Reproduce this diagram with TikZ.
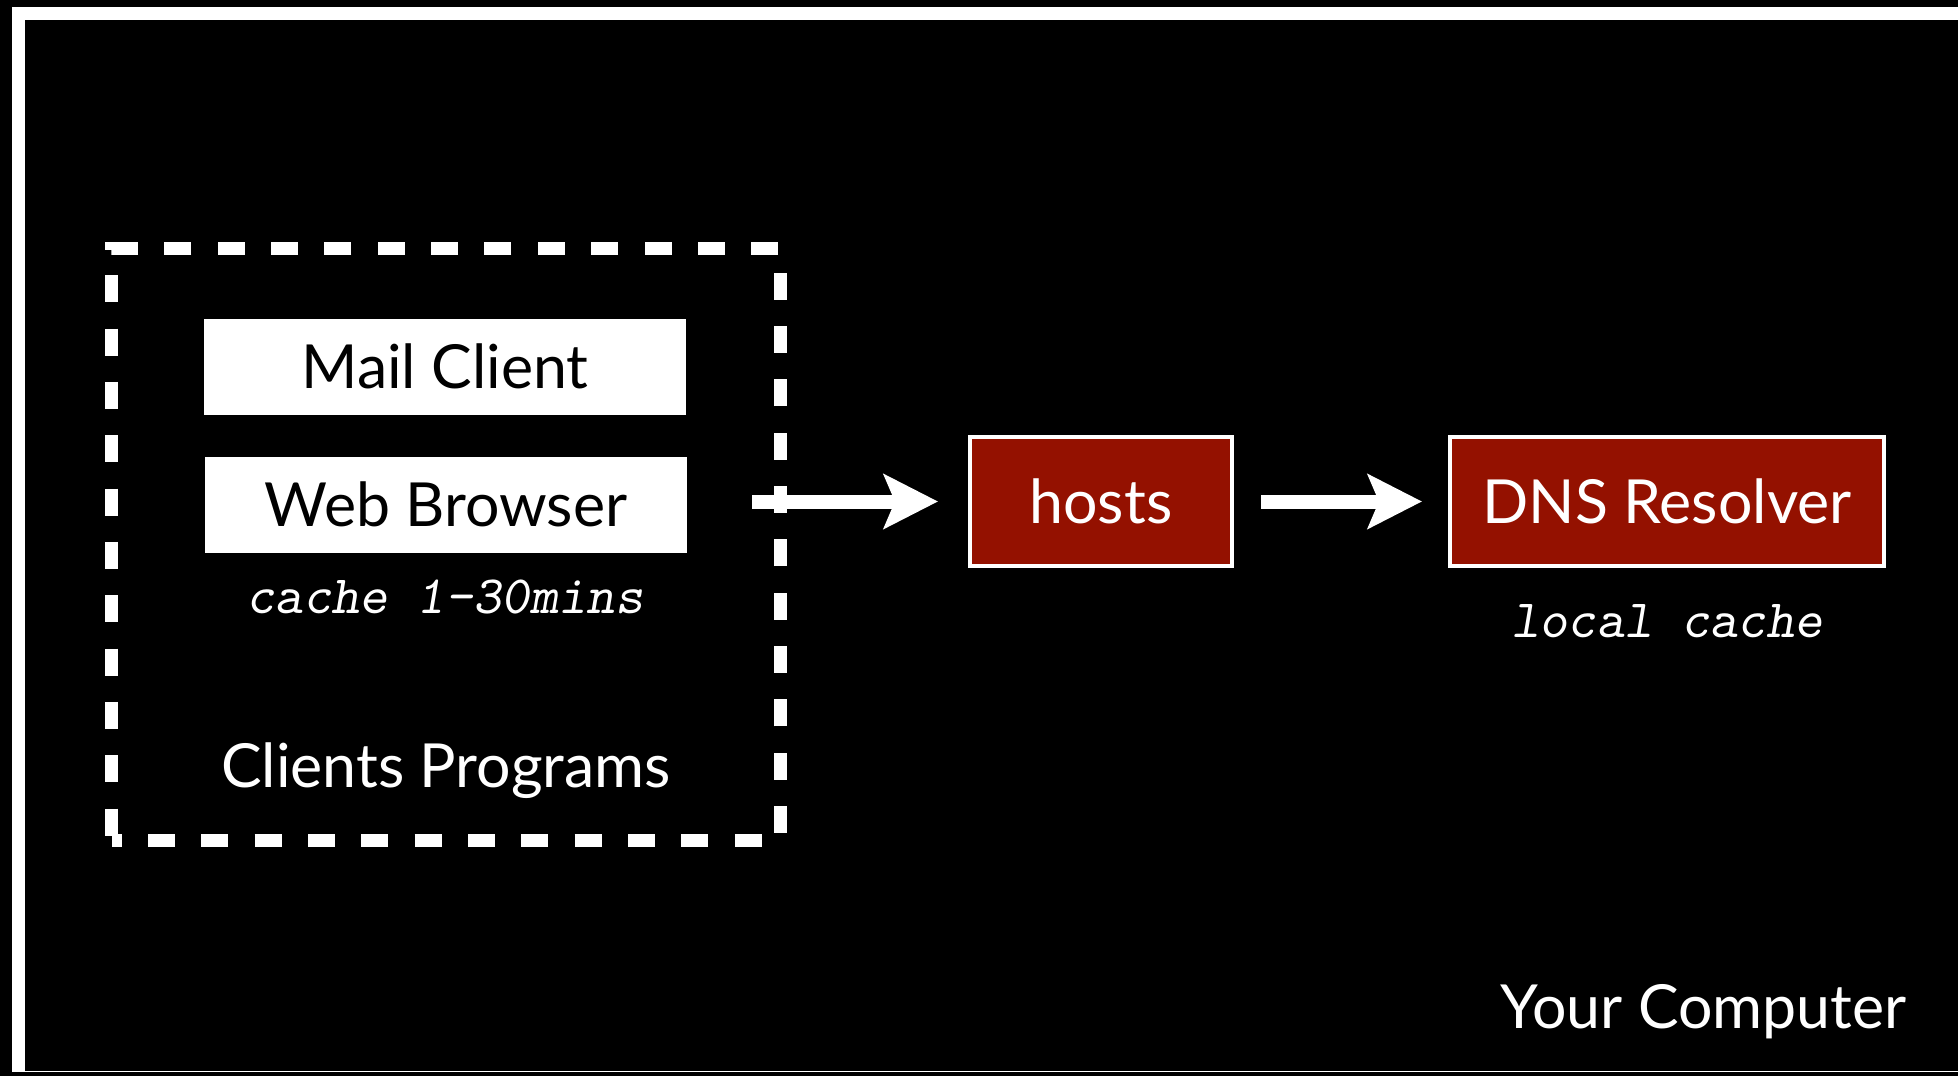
\documentclass[tikz,border=0pt]{standalone}
\usepackage{fontspec}
\setmainfont{Lato}
\usetikzlibrary{arrows.meta,calc}
\definecolor{boxred}{HTML}{941100}
\begin{document}
\begin{tikzpicture}[x=0.5pt,y=-0.5pt,
  sans/.style={font=\fontsize{30.4pt}{36pt}\selectfont},
  mono/.style={font=\fontsize{27pt}{32pt}\selectfont\ttfamily\slshape, text=white, inner sep=0pt},
  label/.style={sans, text=white, inner sep=0pt},
  whitebox/.style={sans, fill=white, text=black, minimum width=241pt, minimum height=48pt,
    inner sep=0pt, outer sep=0pt, text height=21.75pt, text depth=0pt},
  redbox/.style={sans, fill=boxred, draw=white, line width=2pt, text=white, minimum height=64.5pt,
    inner sep=0pt, outer sep=0pt, text height=21.75pt, text depth=0pt},
  groupbox/.style={draw=white, line width=6.5pt, dash pattern=on 13.5pt off 13.17pt, dash phase=8.42pt,
    minimum width=334.5pt, minimum height=296pt, inner sep=0pt, outer sep=0pt},
  bigarrow/.style={draw=white, line width=7pt, -{Stealth[length=27pt, width=27pt, inset=5.5pt]}}
]
\useasboundingbox (0,0) rectangle (1958,1076);
\fill[black] (0,0) rectangle (1958,1076);
\fill[white] (12,7) rectangle (1958,1072);
\fill[black] (25,20) rectangle (1958,1070.5);

\node[groupbox] (clients) at (446,544.5) {};
\node[whitebox] (mail) at (445,367) {Mail Client};
\node[whitebox] (web) at (446,505) {Web Browser};
\node[mono, anchor=base] (cache1) at (445,613) {cache 1-30mins};
\node[label, anchor=base] (clientslbl) at (446,787) {Clients Programs};

\node[redbox, minimum width=131pt] (hosts) at (1101,501.5) {hosts};
\node[redbox, minimum width=217pt] (dns) at (1667,501.5) {DNS Resolver};
\node[mono, anchor=base] (cache2) at (1667,637) {local cache};

\node[label, anchor=base east] (comp) at (1907,1028) {Your Computer};

\draw[bigarrow] ($(clients.east |- hosts.west)+(-14.25pt,0)$) -- ($(hosts.west)+(-16pt,0)$);
\draw[bigarrow] ($(hosts.east)+(14.5pt,0)$) -- ($(dns.west)+(-14pt,0)$);
\end{tikzpicture}
\end{document}
